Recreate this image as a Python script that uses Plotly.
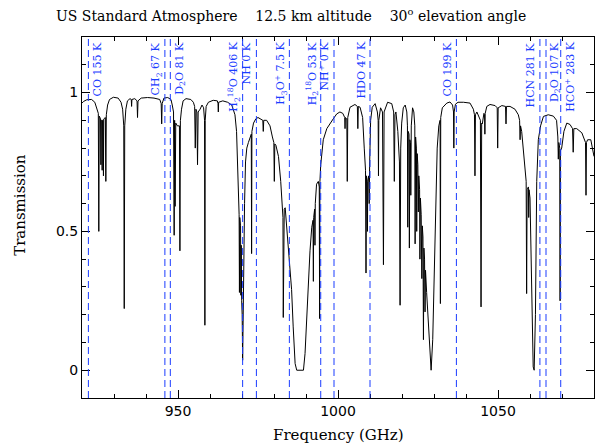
import plotly.graph_objects as go

# ---------------- data ----------------
freq = [
    920.0, 920.5, 921.5, 923.0, 924.0, 924.6, 925.1, 925.25, 925.4, 925.8, 925.9, 926.0,
    926.2, 926.3, 926.4, 926.6, 926.7, 926.8, 927.3, 927.45, 927.6, 928.0, 928.6, 929.8,
    931.3, 932.2, 932.7, 933.05, 933.2, 933.35, 933.7, 934.2, 935.0, 935.4, 935.5, 935.6,
    936.5, 937.2, 937.35, 937.5, 938.5, 940.5, 942.5, 944.3, 944.75, 944.9, 945.05, 945.6,
    946.8, 947.8, 948.2, 948.6, 948.8, 948.95, 949.1, 949.3, 949.8, 950.45, 950.6, 950.75,
    951.1, 951.6, 952.5, 954.0, 954.8, 955.2, 955.4, 955.6, 955.9, 956.1, 956.3, 956.9,
    957.5, 958.0, 958.3, 958.4, 958.5, 958.8, 959.5, 961.0, 962.3, 962.5, 962.6, 962.7,
    964.0, 965.5, 966.8, 967.5, 967.8, 968.3, 968.6, 968.85, 969.1, 969.2, 969.3, 969.55,
    969.65, 969.75, 969.9, 970.05, 970.2, 970.35, 970.5, 970.65, 970.8, 971.1, 971.5, 972.0,
    972.5, 972.9, 973.0, 973.1, 973.6, 974.3, 975.0, 975.6, 976.5, 976.65, 976.8, 977.7,
    978.75, 979.5, 979.95, 980.1, 980.25, 980.6, 981.4, 982.1, 982.5, 982.8, 982.9, 983.0,
    983.2, 983.5, 983.75, 984.0, 984.8, 985.5, 986.0, 986.6, 987.1, 989.2, 989.7, 990.2,
    990.7, 991.25, 991.8, 992.2, 992.3, 992.4, 992.7, 992.8, 992.9, 993.3, 993.85, 994.15,
    994.25, 994.35, 994.6, 995.4, 996.5, 997.5, 998.5, 999.6, 1000.6, 1001.5, 1002.1, 1002.2,
    1002.3, 1002.75, 1002.9, 1003.05, 1003.75, 1005.3, 1006.05, 1006.2, 1006.35, 1006.9, 1007.7, 1008.2,
    1008.6, 1008.75, 1008.9, 1009.1, 1009.2, 1009.3, 1009.6, 1009.75, 1009.9, 1010.2, 1010.7, 1011.6,
    1012.3, 1012.55, 1012.65, 1012.75, 1013.3, 1013.9, 1014.2, 1014.4, 1015.5, 1016.8, 1017.4, 1017.6,
    1017.8, 1018.1, 1018.7, 1019.2, 1019.4, 1019.6, 1019.9, 1020.4, 1021.0, 1021.5, 1021.7, 1021.8,
    1021.95, 1022.2, 1022.3, 1022.45, 1022.65, 1022.75, 1022.9, 1023.3, 1023.7, 1024.0, 1024.1, 1024.25,
    1024.5, 1024.6, 1024.75, 1024.95, 1025.1, 1025.25, 1025.5, 1025.6, 1025.75, 1026.0, 1026.2, 1026.35,
    1026.55, 1026.7, 1026.85, 1027.05, 1027.2, 1027.35, 1027.7, 1028.2, 1028.75, 1029.1, 1029.6, 1030.0,
    1030.5, 1031.0, 1031.5, 1031.9, 1032.0, 1032.1, 1032.6, 1034.0, 1035.0, 1035.8, 1036.1, 1036.2,
    1036.3, 1036.7, 1037.5, 1039.2, 1041.25, 1042.3, 1042.65, 1042.8, 1042.95, 1043.4, 1043.85, 1044.5,
    1044.7, 1044.9, 1045.1, 1045.6, 1045.8, 1045.9, 1046.0, 1046.5, 1047.5, 1049.1, 1049.75, 1049.9,
    1050.05, 1051.2, 1052.35, 1052.5, 1052.65, 1053.75, 1055.3, 1056.35, 1056.75, 1056.9, 1057.05, 1057.4,
    1057.9, 1058.4, 1058.8, 1058.95, 1059.1, 1059.5, 1059.6, 1059.7, 1060.0, 1060.5, 1061.0, 1061.3,
    1061.7, 1062.1, 1062.6, 1063.3, 1064.2, 1065.7, 1067.3, 1068.3, 1068.7, 1068.85, 1069.0, 1069.3,
    1069.4, 1069.5, 1069.9, 1070.6, 1071.5, 1072.5, 1073.3, 1073.5, 1073.7, 1074.6, 1076.2, 1076.9,
    1077.35, 1077.5, 1077.65, 1078.0, 1079.0, 1079.5, 1080.0,
]
trans = [
    0.962, 0.968, 0.974, 0.975, 0.965, 0.945, 0.925, 0.50, 0.915, 0.905, 0.74, 0.90,
    0.90, 0.72, 0.90, 0.90, 0.70, 0.905, 0.91, 0.68, 0.92, 0.955, 0.975, 0.983,
    0.98, 0.965, 0.94, 0.88, 0.222, 0.88, 0.94, 0.97, 0.978, 0.975, 0.95, 0.975,
    0.978, 0.97, 0.91, 0.97, 0.98, 0.982, 0.98, 0.975, 0.96, 0.887, 0.96, 0.98,
    0.982, 0.975, 0.955, 0.93, 0.486, 0.90, 0.59, 0.89, 0.88, 0.88, 0.43, 0.90,
    0.94, 0.97, 0.978, 0.975, 0.965, 0.95, 0.80, 0.94, 0.93, 0.74, 0.93, 0.94,
    0.955, 0.945, 0.90, 0.162, 0.90, 0.95, 0.965, 0.972, 0.97, 0.96, 0.93, 0.965,
    0.97, 0.965, 0.955, 0.935, 0.92, 0.86, 0.74, 0.65, 0.56, 0.28, 0.55, 0.52,
    0.27, 0.45, 0.25, 0.20, 0.036, 0.20, 0.24, 0.40, 0.60, 0.75, 0.80, 0.82,
    0.84, 0.85, 0.42, 0.86, 0.89, 0.905, 0.91, 0.905, 0.90, 0.86, 0.90, 0.90,
    0.88, 0.84, 0.82, 0.68, 0.815, 0.81, 0.77, 0.68, 0.59, 0.55, 0.19, 0.56,
    0.58, 0.585, 0.55, 0.515, 0.42, 0.29, 0.156, 0.024, 0.0, 0.0, 0.06, 0.20,
    0.32, 0.43, 0.515, 0.54, 0.32, 0.55, 0.58, 0.45, 0.60, 0.67, 0.68, 0.66,
    0.186, 0.68, 0.74, 0.83, 0.87, 0.89, 0.905, 0.923, 0.93, 0.925, 0.91, 0.87,
    0.91, 0.905, 0.68, 0.91, 0.947, 0.957, 0.95, 0.87, 0.95, 0.947, 0.91, 0.80,
    0.72, 0.35, 0.70, 0.68, 0.50, 0.68, 0.70, 0.60, 0.75, 0.90, 0.947, 0.96,
    0.93, 0.90, 0.70, 0.90, 0.945, 0.93, 0.38, 0.93, 0.965, 0.96, 0.93, 0.68,
    0.92, 0.93, 0.86, 0.75, 0.234, 0.80, 0.89, 0.945, 0.955, 0.93, 0.88, 0.515,
    0.86, 0.85, 0.44, 0.83, 0.82, 0.63, 0.88, 0.945, 0.93, 0.88, 0.455, 0.84,
    0.80, 0.50, 0.78, 0.74, 0.57, 0.70, 0.65, 0.40, 0.62, 0.56, 0.33, 0.52,
    0.48, 0.11, 0.44, 0.40, 0.21, 0.36, 0.28, 0.18, 0.06, 0.0, 0.11, 0.32,
    0.56, 0.80, 0.88, 0.90, 0.24, 0.91, 0.945, 0.962, 0.966, 0.955, 0.93, 0.80,
    0.93, 0.958, 0.965, 0.965, 0.962, 0.94, 0.92, 0.70, 0.92, 0.93, 0.92, 0.90,
    0.228, 0.89, 0.887, 0.925, 0.92, 0.85, 0.925, 0.95, 0.957, 0.953, 0.945, 0.80,
    0.945, 0.953, 0.95, 0.887, 0.95, 0.95, 0.94, 0.92, 0.90, 0.83, 0.88, 0.86,
    0.79, 0.73, 0.68, 0.276, 0.65, 0.66, 0.55, 0.65, 0.62, 0.37, 0.012, 0.0,
    0.20, 0.68, 0.83, 0.88, 0.914, 0.92, 0.915, 0.90, 0.84, 0.76, 0.82, 0.80,
    0.25, 0.79, 0.80, 0.86, 0.89, 0.885, 0.87, 0.785, 0.87, 0.87, 0.855, 0.83,
    0.82, 0.63, 0.82, 0.83, 0.83, 0.80, 0.77,
]

mol_freq = [922.0, 945.9, 947.6, 970.2, 974.5, 984.8, 994.6, 998.75,
            1010.0, 1037.0, 1063.1, 1065.0, 1069.6]
mol_label = [
    "CO 155 K", "CH<sub>2</sub> 67 K", "D<sub>2</sub>O 81 K",
    "H<sub>2</sub><sup>18</sup>O 406 K", "NH 0 K", "H<sub>3</sub>O<sup>+</sup> 7.5 K",
    "H<sub>2</sub><sup>18</sup>O 53 K", "NH<sup>+</sup> 0 K", "HDO 47 K", "CO 199 K",
    "HCN 281 K", "D<sub>2</sub>O 107 K", "HCO<sup>+</sup> 283 K",
]
# horizontal pixel offset of each label from its dashed line (layout only)
label_shift = [9, -9, 9, -9, -10, -9, -9, -10, -9, -9, -9, 9, 9]

x_ticks = [950, 1000, 1050]
y_ticks = [0, 0.5, 1]
y_ticktext = ["0", "0.5", "1"]

title_text = ("US Standard Atmosphere" + "\u00a0" * 4 + "12.5 km altitude" + "\u00a0" * 4
              + "30<sup>o</sup> elevation angle")

# ---------------- figure ----------------
BLUE = "#1a3cff"
SERIF = "DejaVu Serif"
SANS = "DejaVu Sans"

fig = go.Figure()
fig.add_trace(go.Scatter(x=freq, y=trans, mode="lines",
                         line=dict(color="black", width=1), hoverinfo="skip",
                         showlegend=False))

for f, lab, sh in zip(mol_freq, mol_label, label_shift):
    fig.add_shape(type="line", xref="x", yref="paper", x0=f, x1=f, y0=0, y1=1,
                  line=dict(color=BLUE, width=1, dash="7px,4px"), layer="above")
    fig.add_annotation(x=f, xref="x", y=1, yref="paper", text=lab, textangle=-90,
                       showarrow=False, xanchor="center", yanchor="top",
                       xshift=sh, yshift=-3,
                       font=dict(family=SERIF, size=11, color=BLUE))

fig.add_annotation(x=0, xref="paper", y=1, yref="paper", text=title_text,
                   showarrow=False, xanchor="left", yanchor="middle",
                   xshift=-28, yshift=22, font=dict(family=SERIF, size=14, color="black"))
fig.add_annotation(x=0.5, xref="paper", y=0, yref="paper", text="Frequency (GHz)",
                   showarrow=False, xanchor="center", yanchor="middle",
                   yshift=-37, font=dict(family=SERIF, size=15, color="black"))
fig.add_annotation(x=0, xref="paper", y=0.535, yref="paper", text="Transmission",
                   textangle=-90, showarrow=False, xanchor="center", yanchor="middle",
                   xshift=-62, font=dict(family=SERIF, size=15, color="black"))

axis_common = dict(showline=True, linecolor="black", linewidth=1, mirror="ticks",
                   ticks="inside", tickcolor="black", ticklen=8, tickwidth=1,
                   showgrid=False, zeroline=False,
                   tickfont=dict(family=SANS, size=14, color="black"))

fig.update_xaxes(range=[920, 1080], tickmode="array", tickvals=x_ticks,
                 minor=dict(dtick=10, tick0=0, ticks="inside", ticklen=4,
                            tickcolor="black", showgrid=False),
                 **axis_common)
fig.update_yaxes(range=[-0.1, 1.2], tickmode="array", tickvals=y_ticks,
                 ticktext=y_ticktext,
                 minor=dict(dtick=0.1, tick0=0, ticks="inside", ticklen=4,
                            tickcolor="black", showgrid=False),
                 **axis_common)

fig.update_layout(width=611, height=446, margin=dict(l=82, r=17, t=37, b=48),
                  plot_bgcolor="white", paper_bgcolor="white")

fig.write_html("out.html")
